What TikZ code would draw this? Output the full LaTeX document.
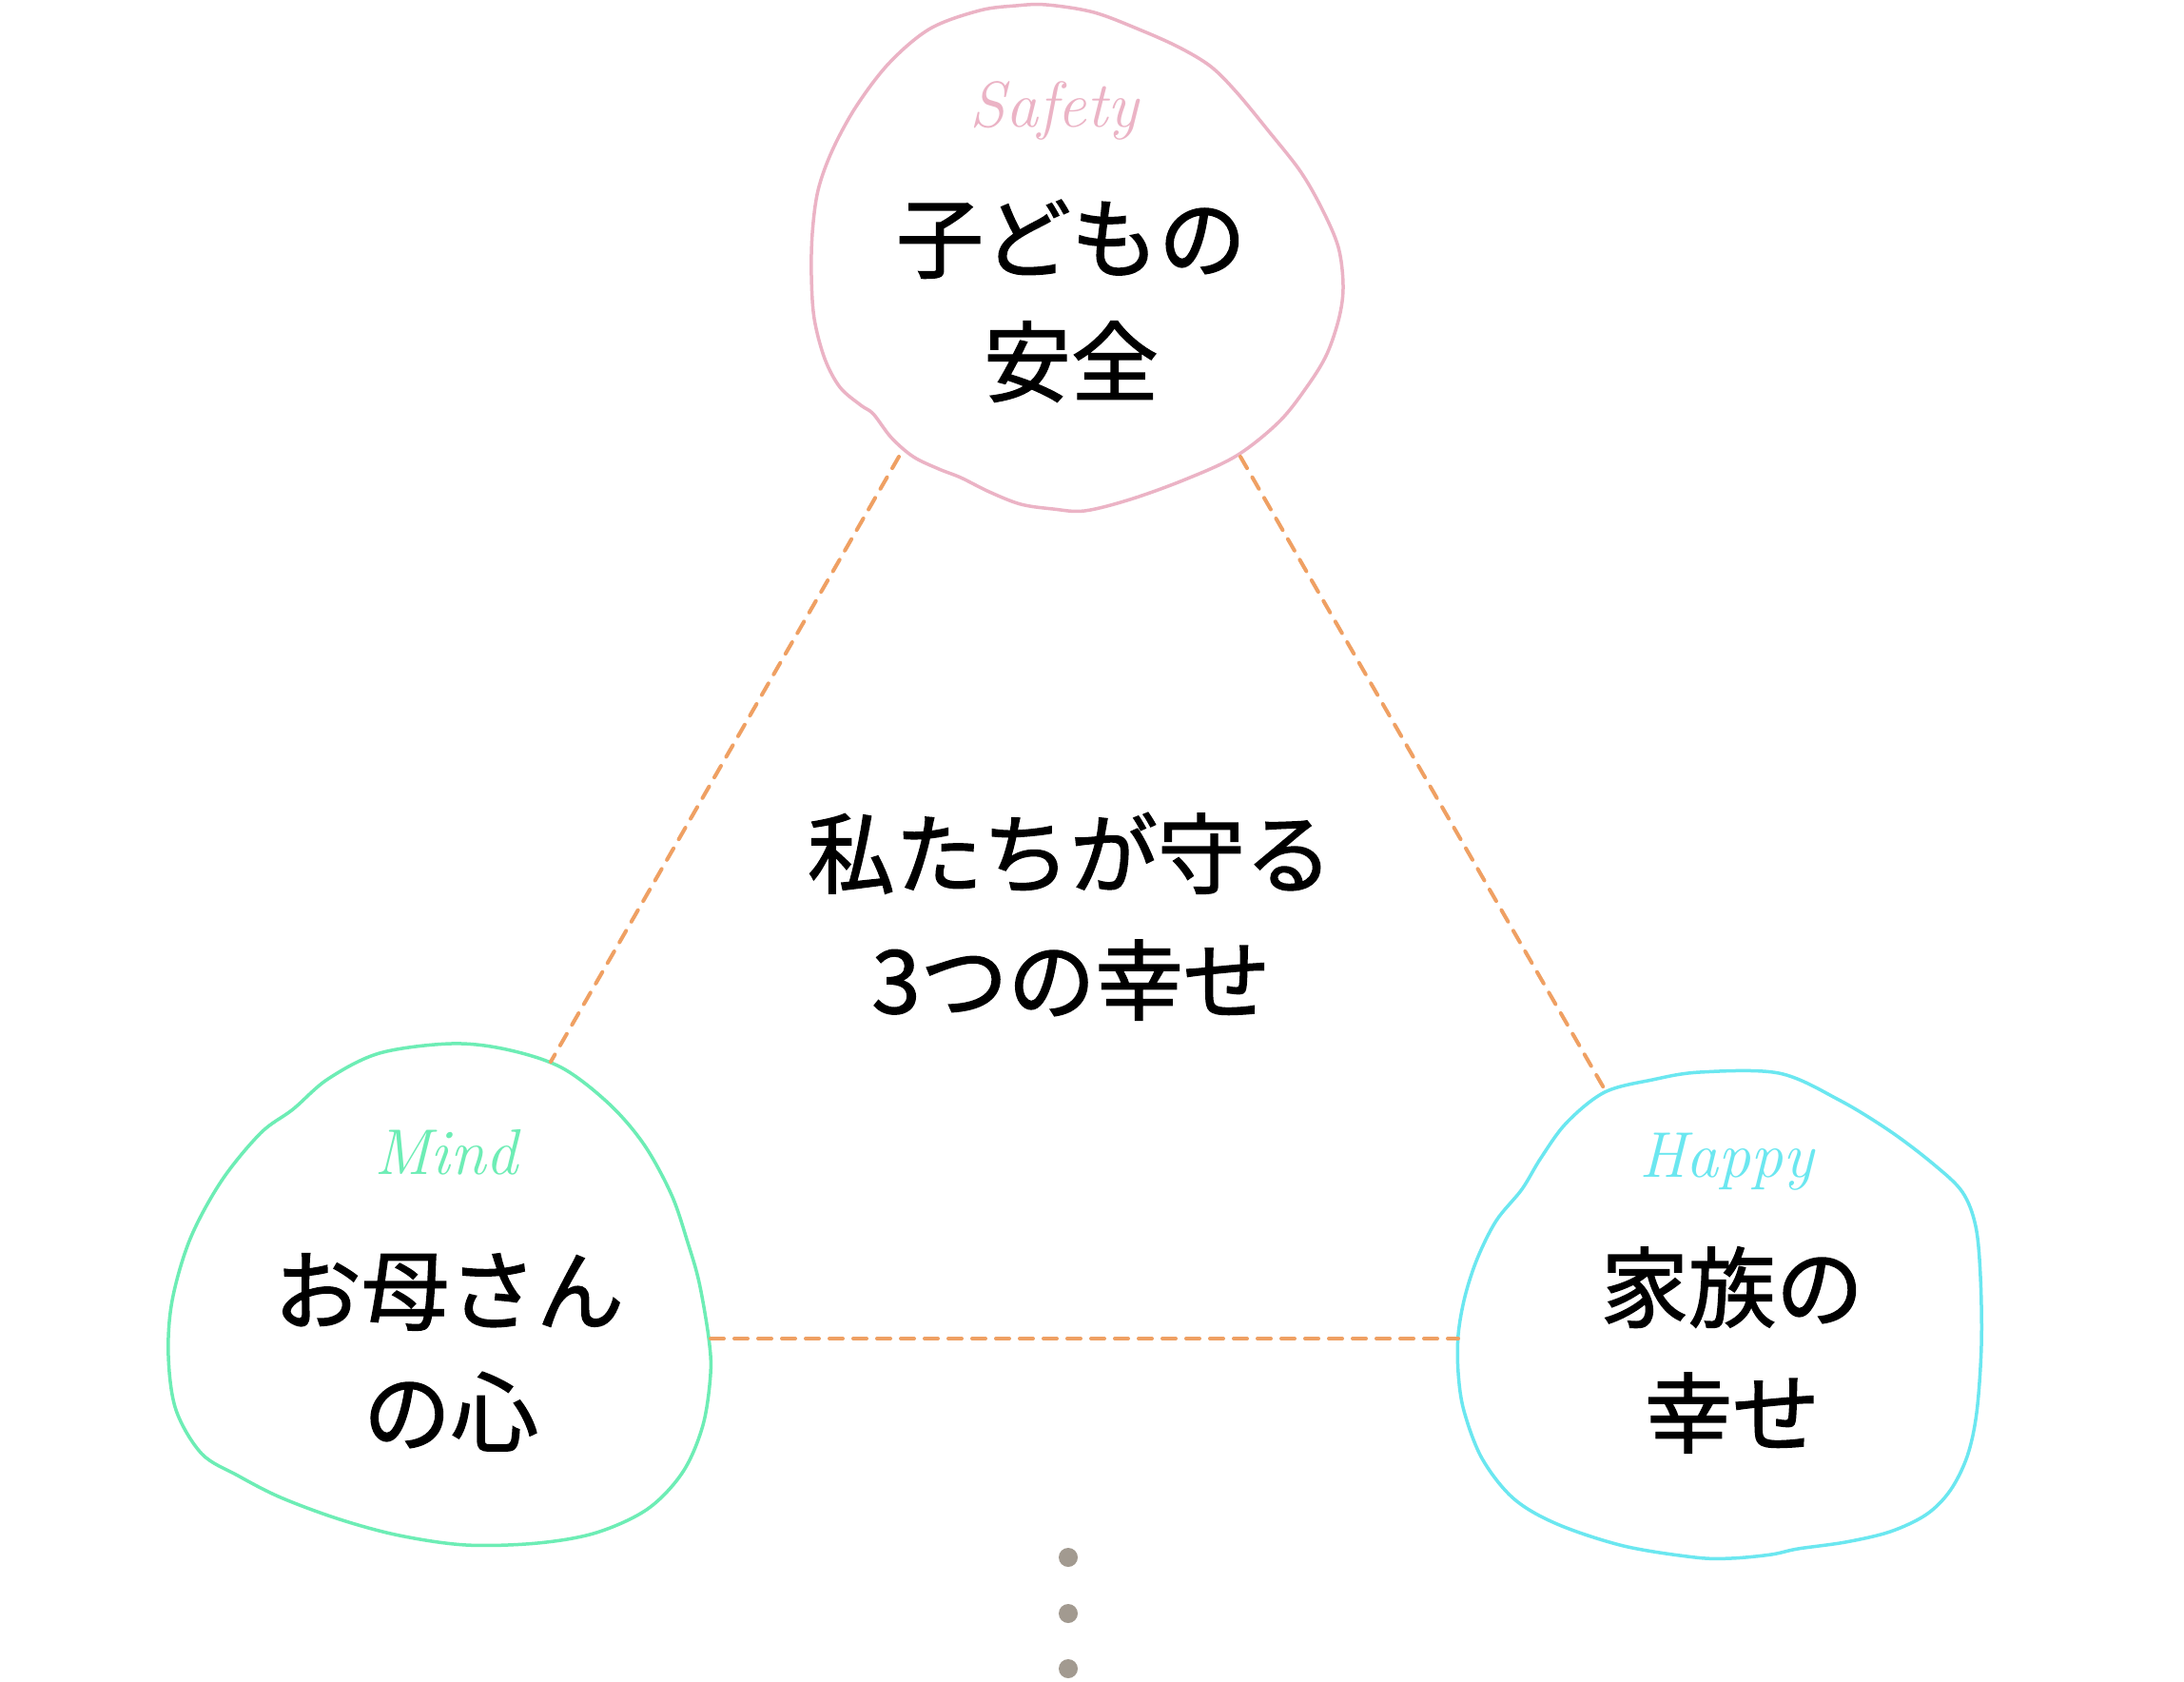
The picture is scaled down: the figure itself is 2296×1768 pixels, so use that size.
\documentclass[tikz,border=0pt]{standalone}
\usepackage{fontspec}
\newfontfamily\jp[FakeBold=1.5]{Noto Sans CJK JP}
\definecolor{blobpink}{HTML}{EBB3C5}
\definecolor{blobgreen}{HTML}{6DEDB5}
\definecolor{blobcyan}{HTML}{6BE7F0}
\definecolor{linkorange}{HTML}{EFA063}
\definecolor{dotgrey}{HTML}{A29A90}
\tikzset{
  blob/.style={line width=3.5pt, line join=round},
  jptext/.style={anchor=base, inner sep=0pt, text height=76pt, text depth=8pt,
    font=\jp\fontsize{92}{110}\selectfont, text=black},
  scripttext/.style={anchor=center, inner sep=0pt, text height=46pt, text depth=14pt,
    font=\itshape\fontsize{68}{80}\selectfont},
  link/.style={linkorange, line width=4pt, dash pattern=on 14pt off 11pt, line cap=round},
  dotmark/.style={circle, fill=dotgrey, minimum size=20pt, inner sep=0pt}
}
\begin{document}
\begin{tikzpicture}[x=1pt,y=-1pt]
\useasboundingbox (0,0) rectangle (2296,1768);
\fill[white] (0,0) rectangle (2296,1768);

% top blob (Safety)
\draw[blob, blobpink] plot[smooth cycle, tension=0.55] coordinates {
 (853,290) (854,245) (860,200) (875,158) (900,112) (935,66) (978,30) (1030,11) (1068,6)
 (1100,5) (1150,13) (1200,32) (1240,50) (1273,70) (1300,97) (1333,137) (1367,180)
 (1390,220) (1407,260) (1412,300) (1408,333) (1395,372) (1375,405) (1345,443)
 (1300,479) (1246,504) (1188,525) (1140,537) (1107,535) (1073,530) (1040,517)
 (1010,502) (987,493) (960,480) (937,460) (918,435) (905,426) (883,407) (867,377)
 (856,335)};

% left blob (Mind)
\draw[blob, blobgreen] plot[smooth cycle, tension=0.55] coordinates {
 (474,1097) (399,1107) (345,1134) (308,1166) (274,1191) (233,1241) (200,1302)
 (181,1367) (177,1425) (185,1482) (212,1528) (250,1551) (295,1574) (357,1597)
 (420,1614) (490,1624) (565,1622) (627,1611) (681,1586) (718,1547) (739,1498)
 (747,1444) (745,1406) (735,1348) (723,1306) (706,1256) (677,1203) (640,1160)
 (590,1122) (532,1103)};

% right blob (Happy)
\draw[blob, blobcyan] plot[smooth cycle, tension=0.55] coordinates {
 (1870,1128) (1933,1156) (1987,1189) (2033,1224) (2063,1253) (2077,1289) (2082,1342)
 (2083,1414) (2078,1485) (2068,1531) (2050,1567) (2025,1592) (1987,1610) (1940,1621)
 (1890,1628) (1862,1634) (1820,1638) (1782,1637) (1707,1625) (1637,1602) (1591,1575)
 (1558,1533) (1539,1483) (1533,1443) (1533,1403) (1540,1363) (1553,1323) (1573,1283)
 (1600,1250) (1620,1217) (1647,1180) (1687,1148) (1737,1135) (1787,1127)};

% connector end points
\coordinate (safetyL) at (945,480);
\coordinate (safetyR) at (1304,480);
\coordinate (mindT) at (579,1116);
\coordinate (mindR) at (747,1407);
\coordinate (happyT) at (1688,1147);
\coordinate (happyL) at (1533,1407);

\draw[link] (safetyL) -- (mindT);
\draw[link] (safetyR) -- (happyT);
\draw[link] (mindR) -- (happyL);

% script labels
\node[scripttext, text=blobpink] (safetyscript) at (1108,118) {Safety};
\node[scripttext, text=blobgreen] (mindscript) at (469,1218) {Mind};
\node[scripttext, text=blobcyan] (happyscript) at (1815,1221) {Happy};

% Japanese texts
\node[jptext] (safety1) at (1126,285) {子どもの};
\node[jptext] (safety2) at (1126,415) {安全};
\node[jptext] (center1) at (1125,932) {私たちが守る};
\node[jptext] (center2) at (1126,1065) {3つの幸せ};
\node[jptext] (mind1) at (472,1391) {お母さん};
\node[jptext] (mind2) at (474,1519) {の心};
\node[jptext] (happy1) at (1821,1388) {家族の};
\node[jptext] (happy2) at (1821,1520) {幸せ};

% dots
\node[dotmark] (dot1) at (1123,1637) {};
\node[dotmark] (dot2) at (1123,1696) {};
\node[dotmark] (dot3) at (1123,1754) {};
\end{tikzpicture}
\end{document}
